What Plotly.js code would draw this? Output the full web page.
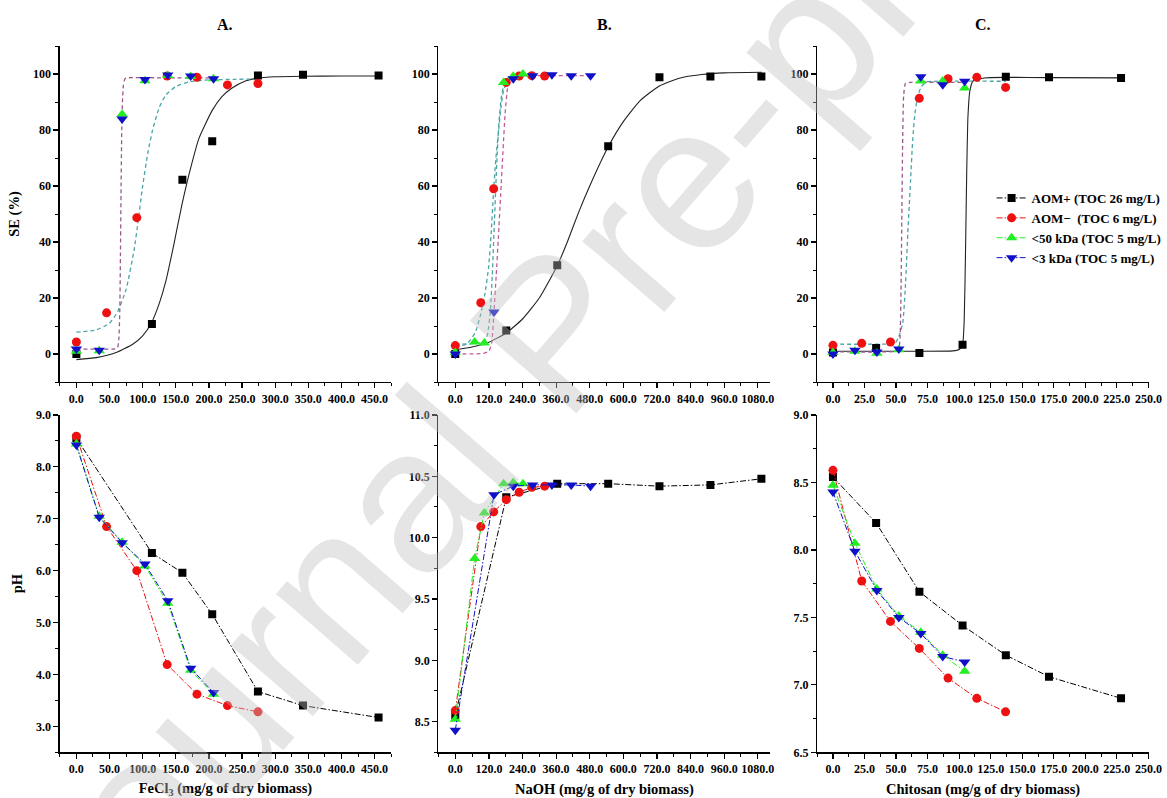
<!DOCTYPE html>
<html>
<head>
<meta charset="utf-8">
<script src="https://cdn.plot.ly/plotly-3.0.1.min.js"></script>
<style>html,body{margin:0;padding:0;background:#fff;}#chart{width:1167px;height:798px;}</style>
</head>
<body>
<div id="chart"></div>
<script>
// ---------- Series names ----------
const seriesNames = ["AOM+ (TOC 26 mg/L)", "AOM\u2212  (TOC 6 mg/L)", "<50 kDa (TOC 5 mg/L)", "<3 kDa (TOC 5 mg/L)"];

// ---------- Panel A : FeCl3 ----------
const aomPlusX_A = [0, 114, 160, 205, 274, 342, 456];
const aomPlusSE_A = [0, 10.7, 62.2, 76.0, 99.5, 99.7, 99.5];
const aomPlusPH_A = [8.55, 6.34, 5.96, 5.16, 3.67, 3.40, 3.17];
const aomMinusX_A = [0, 45.6, 91.2, 137, 182, 228, 274];
const aomMinusSE_A = [4.3, 14.7, 48.7, 99.3, 98.8, 96.1, 96.6];
const aomMinusPH_A = [8.59, 6.85, 6.00, 4.19, 3.62, 3.40, 3.28];
const kda50X_A = [0, 34.5, 69, 103.5, 138, 172.5, 207];
const kda50SE_A = [1.0, 1.2, 85.6, 97.6, 99.5, 99.1, 98.3];
const kda50PH_A = [8.44, 7.05, 6.55, 6.09, 5.37, 4.08, 3.62];
const kda3X_A = [0, 34.5, 69, 103.5, 138, 172.5, 207];
const kda3SE_A = [1.8, 1.3, 83.9, 98.0, 99.6, 99.3, 98.3];
const kda3PH_A = [8.42, 7.03, 6.54, 6.13, 5.42, 4.12, 3.65];
// fitted curves
const fitPlusX_A = [0, 30, 60, 85, 100, 113, 125, 135, 147, 159, 172, 185, 205, 220, 235, 255, 273, 300, 340, 400, 456];
const fitPlusY_A = [-2.0, -1.3, 0.5, 3.5, 6.5, 11, 18, 26, 39, 53, 66, 77, 87, 92, 95, 97.5, 98.5, 99.0, 99.2, 99.3, 99.3];
const fitMinusX_A = [0, 30, 50, 62, 75, 87, 93, 100, 108, 115, 125, 135, 150, 170, 200, 240, 274];
const fitMinusY_A = [7.8, 8.6, 11, 15, 23, 37, 47, 60, 72, 80, 88, 92.5, 95.5, 97.2, 97.9, 98.1, 98.2];
const fitKdaX_A = [0, 58, 62, 64, 65.5, 66.5, 67.5, 68.5, 69.5, 71, 73, 76, 140, 209];
const fitKdaY_A = [1.8, 1.8, 2.2, 5, 15, 35, 60, 80, 90, 96, 98.2, 98.6, 98.6, 98.6];

// ---------- Panel B : NaOH ----------
const aomPlusX_B = [0, 182, 364, 546, 729, 911, 1093];
const aomPlusSE_B = [0, 8.4, 31.7, 74.2, 98.8, 99.1, 99.1];
const aomPlusPH_B = [8.55, 10.33, 10.44, 10.44, 10.42, 10.43, 10.48];
const aomMinusX_B = [0, 91, 137, 182, 228, 273, 319];
const aomMinusSE_B = [3.0, 18.3, 59.0, 97.0, 99.3, 99.4, 99.3];
const aomMinusPH_B = [8.59, 10.09, 10.21, 10.31, 10.37, 10.41, 10.42];
const kda50X_B = [0, 69, 103.5, 172.5, 207, 241.5];
const kda50SE_B = [0.5, 4.3, 3.9, 97.0, 99.2, 100.0];
const kda50PH_B = [8.52, 9.83, 10.20, 10.44, 10.45, 10.44];
const kda3X_B = [0, 138, 207, 276, 345, 414, 483];
const kda3SE_B = [0, 15.0, 98.3, 99.4, 99.7, 99.4, 99.4];
const kda3PH_B = [8.43, 10.35, 10.42, 10.43, 10.43, 10.43, 10.42];
const fitPlusX_B = [0, 60, 120, 182, 240, 300, 364, 400, 440, 480, 546, 600, 660, 730, 800, 880, 960, 1094];
const fitPlusY_B = [1.5, 2.5, 4.2, 7.5, 12.5, 20, 31.5, 40, 50.5, 60, 74, 83, 90.5, 95.8, 98.5, 99.8, 100.4, 100.6];
const fitMinusX_B = [0, 40, 71, 90, 105, 119, 128, 136, 145, 154, 163, 172, 185, 201, 230, 275, 319];
const fitMinusY_B = [2.7, 3.5, 7.6, 14, 21, 31, 43, 57, 70, 79, 88, 94, 97.2, 98.6, 99.3, 99.5, 99.5];
const fit50X_B = [0, 69, 103.5, 115, 125, 132, 140, 148, 156, 165, 175, 190, 210, 241.5];
const fit50Y_B = [3.5, 3.7, 4.3, 7, 15, 28, 48, 68, 83, 92, 96.5, 98.8, 99.6, 100];
const fit3X_B = [0, 100, 120, 130, 138, 146, 154, 162, 170, 178, 186, 195, 220, 260, 483];
const fit3Y_B = [0, 0.2, 1, 4, 15, 28, 42, 57, 72, 86, 94.5, 98, 99.3, 99.4, 99.4];

// ---------- Panel C : Chitosan ----------
const aomPlusX_C = [0, 34.2, 68.5, 102.7, 137, 171.2, 228.3];
const aomPlusSE_C = [0.5, 2.1, 0.4, 3.3, 99.0, 98.8, 98.6];
const aomPlusPH_C = [8.54, 8.20, 7.69, 7.44, 7.22, 7.06, 6.90];
const aomMinusX_C = [0, 22.8, 45.6, 68.4, 91.2, 114, 136.8];
const aomMinusSE_C = [3.1, 3.8, 4.3, 91.3, 98.3, 98.8, 95.2];
const aomMinusPH_C = [8.59, 7.77, 7.47, 7.27, 7.05, 6.90, 6.80];
const kda50X_C = [0, 17.4, 34.8, 52.2, 69.6, 87, 104.4];
const kda50SE_C = [0.5, 1.0, 0.3, 1.5, 97.5, 97.5, 95.0];
const kda50PH_C = [8.48, 8.05, 7.71, 7.51, 7.39, 7.22, 7.10];
const kda3X_C = [0, 17.4, 34.8, 52.2, 69.6, 87, 104.4];
const kda3SE_C = [0, 1.3, 0.7, 1.8, 99.0, 96.2, 97.4];
const kda3PH_C = [8.43, 7.99, 7.70, 7.50, 7.38, 7.21, 7.17];
const fitPlusX_C = [0, 50, 95, 100, 102.7, 104, 105, 106, 107, 108.5, 111, 120, 137, 171, 228.3];
const fitPlusY_C = [1.0, 1.0, 1.1, 1.6, 3.3, 12, 35, 65, 85, 94, 97.5, 98.6, 98.8, 98.7, 98.6];
const fitMinusX_C = [0, 45, 49.5, 52, 55.3, 57.5, 59.3, 61.5, 63.2, 65, 67.2, 70, 74, 80, 137];
const fitMinusY_C = [3.5, 3.6, 4.0, 6, 11, 25, 43, 62, 76.5, 86, 92, 95.5, 97.2, 97.4, 97.4];
const fitKdaX_C = [0, 50, 52.2, 53.2, 54, 54.6, 55.2, 56, 57.5, 62, 104.4];
const fitKdaY_C = [0.8, 1.0, 1.8, 6, 25, 50, 75, 92, 96.7, 97.0, 97.0];

// ---------- Tick / axis texts ----------
const panelTitles = ["A.", "B.", "C."];
const xTitles = ["FeCl<sub>3</sub> (mg/g of dry biomass)", "NaOH (mg/g of dry biomass)", "Chitosan (mg/g of dry biomass)"];
const yTitleTop = "SE (%)";
const yTitleBottom = "pH";
const watermark = "Journal Pre-proof";

// ---------- Styles ----------
const FONT = "Liberation Serif, Times New Roman, serif";
const colors = ["#000000", "#ee1111", "#22ee22", "#1010c8"];
const symbols = ["square", "circle", "triangle-up", "triangle-down"];
const msize = [8, 9, 10, 10];
const TEAL = "#4aa5a8", PURPLE = "#9a5a8c", MAGENTA = "#c55a9a";

const traces = [];
function pts(x, y, i, xa, ya, lineMode, legend) {
  traces.push({
    type: "scatter", x: x, y: y, xaxis: xa, yaxis: ya,
    mode: lineMode ? "lines+markers" : "markers",
    name: seriesNames[i], showlegend: !!legend,
    line: {color: colors[i], width: 1, dash: "6px,2px,1.5px,2px"},
    marker: {symbol: symbols[i], size: msize[i], color: colors[i], line: {width: 0}}
  });
}
function fit(x, y, color, xa, ya, solid) {
  traces.push({
    type: "scatter", x: x, y: y, xaxis: xa, yaxis: ya, mode: "lines",
    showlegend: false, hoverinfo: "skip",
    line: {color: color, width: solid ? 1.1 : 1.3, dash: solid ? "solid" : "4px,3px", shape: "spline", smoothing: 0.5}
  });
}

// Top row fits
fit(fitPlusX_A, fitPlusY_A, "#222", "x", "y", true);
fit(fitMinusX_A, fitMinusY_A, TEAL, "x", "y");
fit(fitKdaX_A, fitKdaY_A, PURPLE, "x", "y");
fit(fitPlusX_B, fitPlusY_B, "#222", "x2", "y2", true);
fit(fitMinusX_B, fitMinusY_B, TEAL, "x2", "y2");
fit(fit50X_B, fit50Y_B, TEAL, "x2", "y2");
fit(fit3X_B, fit3Y_B, MAGENTA, "x2", "y2");
fit(fitPlusX_C, fitPlusY_C, "#222", "x3", "y3", true);
fit(fitMinusX_C, fitMinusY_C, TEAL, "x3", "y3");
fit(fitKdaX_C, fitKdaY_C, PURPLE, "x3", "y3");

// Top row points
pts(aomPlusX_A, aomPlusSE_A, 0, "x", "y"); pts(aomMinusX_A, aomMinusSE_A, 1, "x", "y");
pts(kda50X_A, kda50SE_A, 2, "x", "y"); pts(kda3X_A, kda3SE_A, 3, "x", "y");
pts(aomPlusX_B, aomPlusSE_B, 0, "x2", "y2"); pts(aomMinusX_B, aomMinusSE_B, 1, "x2", "y2");
pts(kda50X_B, kda50SE_B, 2, "x2", "y2"); pts(kda3X_B, kda3SE_B, 3, "x2", "y2");
pts(aomPlusX_C, aomPlusSE_C, 0, "x3", "y3"); pts(aomMinusX_C, aomMinusSE_C, 1, "x3", "y3");
pts(kda50X_C, kda50SE_C, 2, "x3", "y3"); pts(kda3X_C, kda3SE_C, 3, "x3", "y3");

// Bottom row pH
pts(aomPlusX_A, aomPlusPH_A, 0, "x4", "y4", true, true); pts(aomMinusX_A, aomMinusPH_A, 1, "x4", "y4", true, true);
pts(kda50X_A, kda50PH_A, 2, "x4", "y4", true, true); pts(kda3X_A, kda3PH_A, 3, "x4", "y4", true, true);
pts(aomPlusX_B, aomPlusPH_B, 0, "x5", "y5", true); pts(aomMinusX_B, aomMinusPH_B, 1, "x5", "y5", true);
pts(kda50X_B, kda50PH_B, 2, "x5", "y5", true); pts(kda3X_B, kda3PH_B, 3, "x5", "y5", true);
pts(aomPlusX_C, aomPlusPH_C, 0, "x6", "y6", true); pts(aomMinusX_C, aomMinusPH_C, 1, "x6", "y6", true);
pts(kda50X_C, kda50PH_C, 2, "x6", "y6", true); pts(kda3X_C, kda3PH_C, 3, "x6", "y6", true);

// ---------- Layout ----------
const W = 1167, H = 798;
const colDom = [[60 / W, 392.5 / W], [440 / W, 773 / W], [820 / W, 1153 / W]];
const topDom = [1 - 382 / H, 1 - 46 / H];
const botDom = [1 - 752.3 / H, 1 - 415 / H];
const tickFont = {family: FONT, size: 12, weight: "bold", color: "#000"};
const titleFont = {family: FONT, size: 14.5, weight: "bold", color: "#000"};

function xax(dom, range, dtick, anchor, title) {
  const a = {
    domain: dom, range: range, anchor: anchor, dtick: dtick, tick0: 0, tickformat: ".1f",
    showline: true, linecolor: "#000", linewidth: 1.3, ticks: "outside", ticklen: 5, tickwidth: 1.2, tickcolor: "#000",
    minor: {dtick: dtick / 2, tick0: 0, ticks: "outside", ticklen: 3, tickwidth: 1, tickcolor: "#000"},
    showgrid: false, zeroline: false, tickfont: tickFont, fixedrange: true
  };
  if (title) a.title = {text: title, font: titleFont, standoff: 8};
  return a;
}
function yax(dom, range, dtick, tick0, anchor, fmt, title) {
  const a = {
    domain: dom, range: range, anchor: anchor, dtick: dtick, tick0: tick0, tickformat: fmt,
    showline: true, linecolor: "#000", linewidth: 1.3, ticks: "outside", ticklen: 5, tickwidth: 1.2, tickcolor: "#000",
    minor: {dtick: dtick / 2, tick0: tick0, ticks: "outside", ticklen: 3, tickwidth: 1, tickcolor: "#000"},
    showgrid: false, zeroline: false, tickfont: tickFont, fixedrange: true
  };
  if (title) a.title = {text: title, font: titleFont, standoff: 10};
  return a;
}

const layout = {
  width: W, height: H,
  margin: {l: 0, r: 0, t: 0, b: 0},
  paper_bgcolor: "#fff", plot_bgcolor: "rgba(0,0,0,0)",
  showlegend: true,
  legend: {x: 995 / W, y: 1 - 183 / H, xanchor: "left", yanchor: "top", bgcolor: "rgba(0,0,0,0)",
           font: {family: FONT, size: 13, weight: "bold", color: "#000"}, tracegroupgap: 0, itemwidth: 30},
  xaxis: xax(colDom[0], [-25, 475], 50, "y"),
  xaxis2: xax(colDom[1], [-60, 1125], 120, "y2"),
  xaxis3: xax(colDom[2], [-12.5, 250.5], 25, "y3"),
  xaxis4: xax(colDom[0], [-25, 475], 50, "y4", xTitles[0]),
  xaxis5: xax(colDom[1], [-60, 1125], 120, "y5", xTitles[1]),
  xaxis6: xax(colDom[2], [-12.5, 250.5], 25, "y6", xTitles[2]),
  yaxis: yax(topDom, [-10, 110], 20, 0, "x", "d", yTitleTop),
  yaxis2: yax(topDom, [-10, 110], 20, 0, "x2", "d"),
  yaxis3: yax(topDom, [-10, 110], 20, 0, "x3", "d"),
  yaxis4: yax(botDom, [2.5, 9.0], 1, 3, "x4", ".1f", yTitleBottom),
  yaxis5: yax(botDom, [8.25, 11.0], 0.5, 8.5, "x5", ".1f"),
  yaxis6: yax(botDom, [6.5, 9.0], 0.5, 6.5, "x6", ".1f"),
  annotations: [
    {text: watermark, xref: "paper", yref: "paper", x: 0.475, y: 0.585, showarrow: false,
     textangle: -49, font: {family: "Liberation Sans, Arial, sans-serif", size: 205, color: "rgba(190,190,190,0.4)"}},
  ].concat(panelTitles.map((t, i) => ({
    text: t, xref: "paper", yref: "paper", x: (colDom[i][0] + colDom[i][1]) / 2, y: 1 - 25 / H,
    xanchor: "center", yanchor: "middle", showarrow: false,
    font: {family: FONT, size: 16, weight: "bold", color: "#000"}
  })))
};

Plotly.newPlot("chart", traces, layout, {displayModeBar: false, staticPlot: true});
</script>
</body>
</html>
